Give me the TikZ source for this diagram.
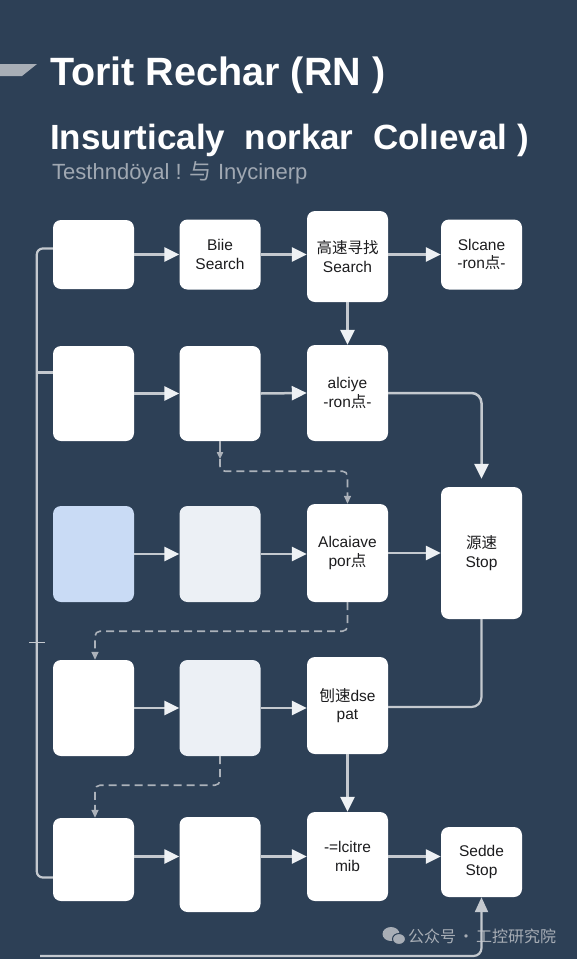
\documentclass[tikz,border=0pt]{standalone}
\usepackage{fontspec}
\setmainfont{Liberation Sans}
\newfontfamily\cjk{Noto Sans CJK SC}
\usetikzlibrary{arrows.meta,calc}
\definecolor{bgblue}{RGB}{45,64,86}
\definecolor{linegrey}{RGB}{196,201,207}
\definecolor{tipwhite}{RGB}{238,241,244}
\definecolor{dashgrey}{RGB}{172,178,186}
\definecolor{paleblue}{RGB}{201,219,245}
\definecolor{palegrey}{RGB}{236,240,245}
\definecolor{boxtext}{RGB}{28,28,30}
\definecolor{subgrey}{RGB}{160,168,178}
\definecolor{markgrey}{RGB}{168,174,182}
\tikzset{
  font=\fontsize{15.5}{18.5}\selectfont,
  sbox/.style={fill=white, rounded corners=8pt, align=center, text=boxtext,
               minimum width=81pt, inner sep=2pt},
  arr/.style={-{Triangle[length=15pt,width=14pt,color=tipwhite]},
              draw=linegrey, line width=2.5pt},
  link/.style={draw=linegrey, line width=2.2pt},
  dlink/.style={draw=dashgrey, line width=1.6pt, dash pattern=on 8pt off 5pt,
                rounded corners=5pt, -{Triangle[length=8pt,width=7pt]}},
  smallarr/.style={draw=dashgrey, line width=1.6pt, -{Triangle[length=7pt,width=6pt]}},
  ttl/.style={anchor=base west, text=white, inner sep=0pt},
}

\begin{document}
\begin{tikzpicture}[x=1pt, y=-1pt]
  \fill[bgblue] (0,0) rectangle (577,959);
  \useasboundingbox (0,0) rectangle (577,959);

  % title block
  \fill[markgrey] (0,64) -- (37,64) -- (22,76) -- (0,76) -- cycle;
  \node[ttl, font=\fontsize{39.5}{41}\selectfont\bfseries] (title) at (50,85) {Torit Rechar (RN )};
  \node[ttl, font=\fontsize{35}{37}\selectfont\bfseries] (subtitle) at (50,149) {Insurticaly \ norkar \ Colıeval )};
  \node[ttl, text=subgrey, font=\fontsize{22}{24}\selectfont] (note) at (52,179) {Testhndöyal ! {\cjk 与} Inycinerp};

  % row 1
  \node[sbox, minimum height=69pt] (a1) at (93.5,254.5) {};
  \node[sbox, minimum height=70pt] (a2) at (220,254.5) {Biie\\Search};
  \node[sbox, minimum height=91pt] (a3) at (347.5,256.5) {{\cjk 高速寻找}\\Search};
  \node[sbox, minimum height=70pt] (a4) at (481.5,254.5) {Slcane\\-ron{\cjk 点}-};
  % row 2
  \node[sbox, minimum height=95pt] (b1) at (93.5,393.5) {};
  \node[sbox, minimum height=95pt] (b2) at (220,393.5) {};
  \node[sbox, minimum height=96pt] (b3) at (347.5,393) {alciye\\-ron{\cjk 点}-};
  % row 3
  \node[sbox, fill=paleblue, minimum height=96pt] (c1) at (93.5,554) {};
  \node[sbox, fill=palegrey, minimum height=96pt] (c2) at (220,554) {};
  \node[sbox, minimum height=98pt] (c3) at (347.5,553) {Alcaiave\\por{\cjk 点}};
  \node[sbox, minimum height=132pt] (c4) at (481.5,553) {{\cjk 源速}\\Stop};
  % row 4
  \node[sbox, minimum height=96pt] (d1) at (93.5,708) {};
  \node[sbox, fill=palegrey, minimum height=96pt] (d2) at (220,708) {};
  \node[sbox, minimum height=97pt] (d3) at (347.5,705.5) {{\cjk 刨速}dse\\pat};
  % row 5
  \node[sbox, minimum height=83pt] (e1) at (93.5,859.5) {};
  \node[sbox, minimum height=95pt] (e2) at (220,864.5) {};
  \node[sbox, minimum height=89pt] (e3) at (347.5,856.5) {-=lcitre\\mib};
  \node[sbox, minimum height=70pt] (e4) at (481.5,862) {Sedde\\Stop};

  % watermark
  \fill[markgrey] (391,934) ellipse (8.5 and 7);
  \filldraw[markgrey, draw=bgblue, line width=1pt] (399,939) ellipse (6.5 and 5.5);
  \node[anchor=west, text=markgrey, inner sep=0pt, font=\cjk\fontsize{16}{18}\selectfont] (mark) at (408,936) {公众号{\kern2pt}·{\kern2pt}工控研究院};

  % straight flow
  \draw[arr] (a1.east) -- (a2.west);
  \draw[arr] (a2.east) -- (a2.east -| a3.west);
  \draw[arr] (a3.east |- a4.west) -- (a4.west);
  \draw[arr] (a3.south) -- (b3.north);
  \draw[arr] (b1.east) -- (b2.west);
  \draw[arr] (b2.east) -- (b3.west);
  \draw[arr] (c1.east) -- (c2.west);
  \draw[arr] (c2.east) -- (c2.east -| c3.west);
  \draw[arr] (c3.east) -- (c3.east -| c4.west);
  \draw[arr] (d1.east) -- (d2.west);
  \draw[arr] (d2.east) -- (d2.east -| d3.west);
  \draw[arr] (d3.south) -- (e3.north);
  \draw[arr] (e1.east |- e3.west) -- (e2.west |- e3.west);
  \draw[arr] (e2.east |- e3.west) -- (e3.west);
  \draw[arr] (e3.east) -- (e3.east -| e4.west);

  % side paths
  \draw[arr, rounded corners=10pt, shorten >=8pt] (b3.east) -| (c4.north);
  \draw[link, rounded corners=10pt] ([yshift=-1.5pt]d3.east) -| (c4.south);

  % dashed returns
  \coordinate (b2turn) at ([yshift=-30pt]b2.south);
  \coordinate (c3turn) at ([yshift=-29pt]c3.south);
  \coordinate (d2turn) at ([yshift=-29pt]d2.south);
  \draw[smallarr] (b2.south) -- ([yshift=-18pt]b2.south);
  \draw[dlink] ([yshift=-18pt]b2.south) -- (b2turn) -| (c3.north);
  \draw[dlink] (c3.south) -- (c3turn) -| ([xshift=1.5pt]d1.north);
  \draw[dlink] (d2.south) -- (d2turn) -| ([xshift=1.5pt]e1.north);

  % left bus
  \draw[link, rounded corners=6pt] ([yshift=6pt]a1.west) -- ++(-16,0) |- ([yshift=-18pt]e1.west);
  \draw[link] ([yshift=21pt]b1.west) -- ++(-16,0);
  \draw[link, line width=1pt] (29,642) -- (45,642);

  % bottom return
  \coordinate (btm) at (40,956);
  \draw[link, rounded corners=8pt, -{Triangle[length=15pt,width=13pt]}] (btm) -| (e4.south);
\end{tikzpicture}
\end{document}
